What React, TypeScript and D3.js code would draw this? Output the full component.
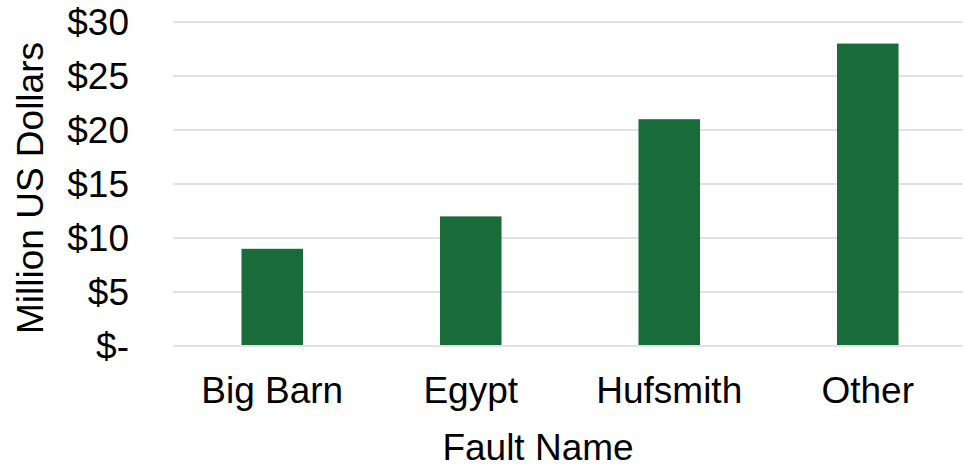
import React, { useEffect, useRef } from 'react';
import * as d3 from 'd3';

const faults = ['Big Barn', 'Egypt', 'Hufsmith', 'Other'];
const costs = [9, 12, 21, 28];
const yTicks = [0, 5, 10, 15, 20, 25, 30];

const App = () => {
  const svgRef = useRef<SVGSVGElement>(null);

  const width = 963;
  const height = 467;
  const marginTop = 22;
  const marginLeft = 173;
  const plotRight = 967;
  const plotBottom = 346;
  const fontSize = 37;

  useEffect(() => {
    const svg = d3.select(svgRef.current);
    svg.selectAll('*').remove();
    svg.attr('font-family', '"Liberation Sans", Arial, sans-serif');

    const x = d3.scaleBand<string>()
      .domain(faults)
      .range([marginLeft, plotRight])
      .paddingInner(0.69)
      .paddingOuter(0.345);

    const y = d3.scaleLinear()
      .domain([0, 30])
      .range([plotBottom, marginTop]);

    // grid lines
    svg.append('g')
      .selectAll('line')
      .data(yTicks)
      .join('line')
      .attr('x1', marginLeft)
      .attr('x2', width)
      .attr('y1', d => y(d))
      .attr('y2', d => y(d))
      .attr('stroke', '#d9d9d9')
      .attr('stroke-width', 1.5);

    // y tick labels
    svg.append('g')
      .selectAll('text')
      .data(yTicks)
      .join('text')
      .attr('x', 129)
      .attr('y', d => y(d))
      .attr('dy', '0.35em')
      .attr('text-anchor', 'end')
      .attr('font-size', fontSize)
      .attr('fill', '#000')
      .text(d => (d === 0 ? '$-' : `$${d}`));

    // bars
    svg.append('g')
      .selectAll('rect')
      .data(faults)
      .join('rect')
      .attr('x', d => x(d)!)
      .attr('width', x.bandwidth())
      .attr('y', (d, i) => y(costs[i]))
      .attr('height', (d, i) => y(0) - y(costs[i]) - 1)
      .attr('fill', '#196b3a');

    // x labels
    svg.append('g')
      .selectAll('text')
      .data(faults)
      .join('text')
      .attr('x', d => x(d)! + x.bandwidth() / 2)
      .attr('y', 403)
      .attr('text-anchor', 'middle')
      .attr('font-size', fontSize)
      .attr('fill', '#000')
      .text(d => d);

    // axis titles
    svg.append('text')
      .attr('x', 538)
      .attr('y', 460)
      .attr('text-anchor', 'middle')
      .attr('font-size', fontSize)
      .attr('fill', '#000')
      .text('Fault Name');

    svg.append('text')
      .attr('transform', `translate(43,188) rotate(-90)`)
      .attr('text-anchor', 'middle')
      .attr('font-size', fontSize)
      .attr('fill', '#000')
      .text('Million US Dollars');
  }, []);

  return (
    <svg
      ref={svgRef}
      width={width}
      height={height}
      style={{ position: 'absolute', left: 0, top: 0, background: '#fff' }}
    />
  );
};

export default App;
